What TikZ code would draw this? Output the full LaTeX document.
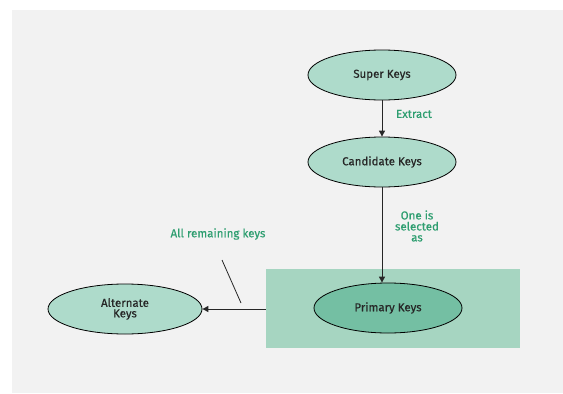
\documentclass[tikz,border=0pt]{standalone}
\usepackage{fontspec}
\setmainfont{Fira Sans}[FakeBold=0.5]
\usetikzlibrary{arrows.meta,shapes.geometric}
\definecolor{bggray}{HTML}{F2F2F2}
\definecolor{ellfill}{HTML}{AEDBCB}
\definecolor{primfill}{HTML}{74BFA3}
\definecolor{boxfill}{HTML}{A6D5C1}
\definecolor{lblgreen}{HTML}{2E9E70}
\tikzset{
  keynode/.style={ellipse, draw=black, line width=0.8pt, fill=ellfill, minimum width=148pt, minimum height=50pt, inner sep=0pt, font=\fontsize{11.5}{10.5}\selectfont, align=center, text=black!85},
  lbl/.style={text=lblgreen, font=\fontsize{11.5}{11}\selectfont, align=center, inner sep=0pt},
  conn/.style={line width=1pt, draw=black!85, -{Triangle[length=6pt,width=6pt]}}
}
\begin{document}
\begin{tikzpicture}[x=1pt,y=-1pt]
\useasboundingbox (0,0) rectangle (563,394);
\fill[white] (0,0) rectangle (563,394);
\fill[bggray] (12,10) rectangle (563,393);
\node[rectangle, fill=boxfill, minimum width=254pt, minimum height=79pt, inner sep=0pt] (box) at (393,308.5) {};
\node[keynode] (super) at (382,75) {Super Keys};
\node[keynode] (cand) at (382,162) {Candidate Keys};
\node[keynode, fill=primfill] (prim) at (388,308) {Primary Keys};
\node[keynode, minimum width=154pt] (alt) at (125,309) {Alternate\\Keys};
\draw[conn] (super.south) -- (cand.north);
\draw[conn] (cand.south) -- (cand.south |- prim.north);
\draw[conn] (box.west |- alt.east) -- (alt.east);
\node[lbl] (ext) at (414,114) {Extract};
\node[lbl] (sel) at (417,226) {One is\\selected\\as};
\node[lbl] (rem) at (218,234) {All remaining keys};
\coordinate (s1) at (222,260);
\coordinate (s2) at (241,303);
\draw[line width=0.8pt, black!85] (s1) -- (s2);
\end{tikzpicture}
\end{document}
